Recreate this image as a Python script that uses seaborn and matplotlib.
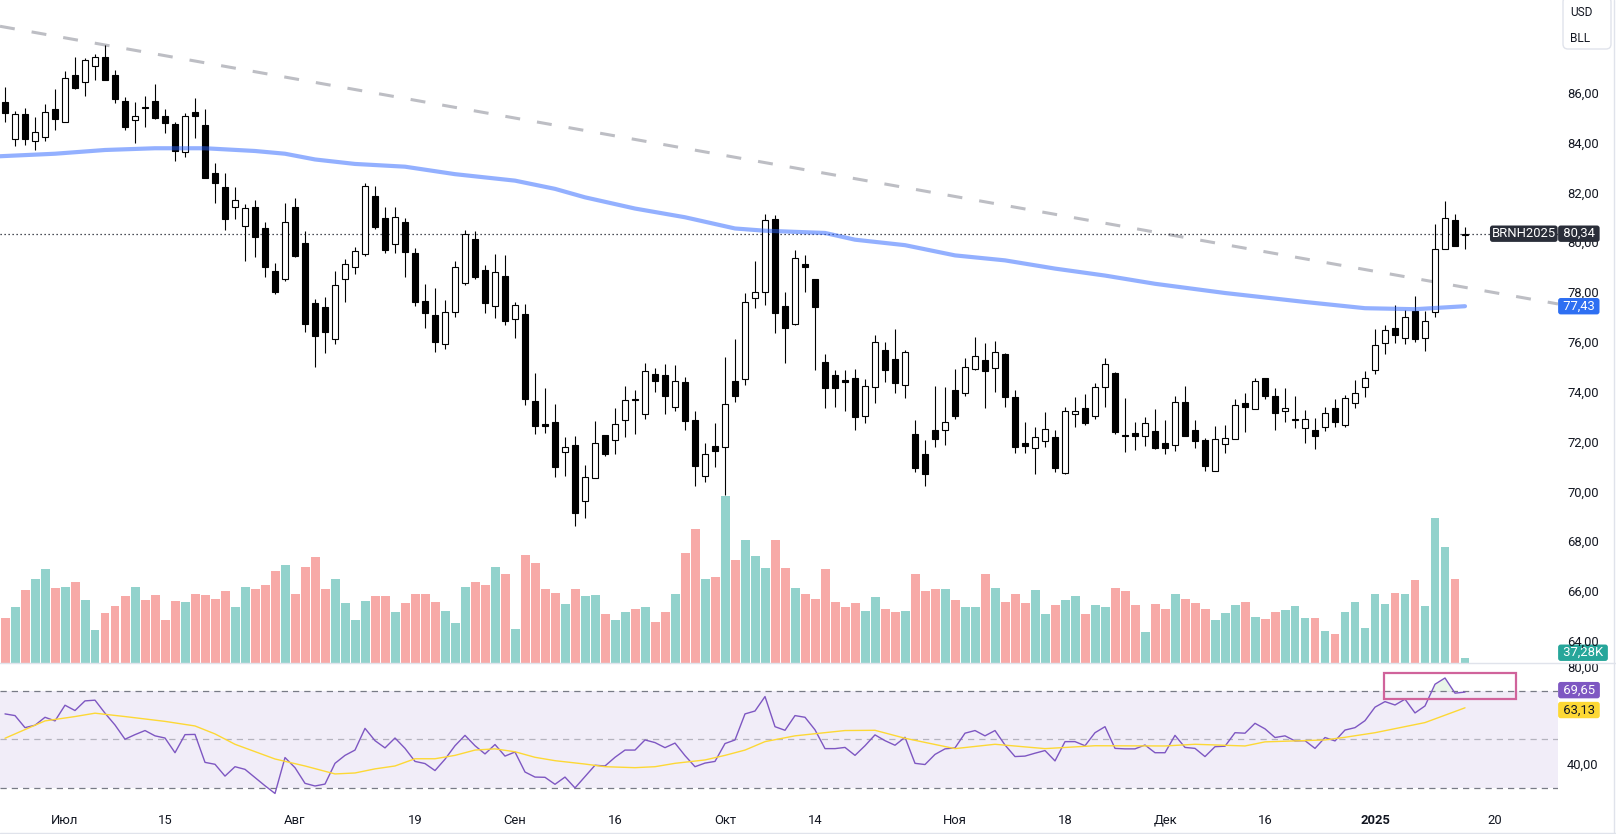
import numpy as np
import pandas as pd
import matplotlib
matplotlib.use("Agg")
import matplotlib.pyplot as plt
import matplotlib.transforms as mtransforms
from matplotlib.patches import FancyBboxPatch, Rectangle
from matplotlib.lines import Line2D
import seaborn as sns

# === Data ===
first_day = "2024-06-21"
holidays = ["2024-12-25", "2025-01-01"]
symbol = "BRNH2025"

opens = [85.61, 84.13, 85.13, 84.05, 84.23, 85.34, 84.83, 86.70, 86.41, 87.06,
         87.42, 86.70, 85.65, 84.89, 85.42, 85.65, 85.05, 84.73, 83.61, 85.21,
         84.69, 82.76, 82.20, 81.40, 80.64, 81.40, 80.56, 78.83, 78.51, 81.40,
         79.97, 77.55, 77.39, 76.10, 78.51, 78.99, 79.51, 81.85, 80.96, 79.93,
         80.80, 79.56, 77.64, 77.08, 75.90, 77.18, 78.35, 80.11, 78.88, 77.44,
         78.64, 76.90, 77.12, 73.62, 72.70, 72.78, 71.59, 71.86, 69.61, 70.52,
         72.26, 72.06, 72.86, 73.69, 73.10, 74.70, 74.66, 73.37, 74.38, 72.85,
         70.63, 71.82, 71.79, 74.43, 74.51, 77.75, 78.01, 80.93, 77.44, 76.72,
         79.11, 78.52, 75.19, 74.67, 74.45, 74.54, 73.04, 74.17, 75.67, 75.31,
         74.26, 72.30, 71.50, 72.46, 72.46, 74.07, 73.93, 74.92, 75.27, 74.94,
         75.51, 73.77, 71.93, 71.73, 72.04, 72.19, 70.72, 73.09, 73.33, 73.04,
         74.20, 74.74, 72.25, 72.33, 72.23, 72.42, 71.93, 71.86, 73.57, 72.46,
         72.06, 70.83, 71.89, 72.09, 73.53, 73.30, 74.54, 73.84, 73.22, 72.85,
         72.53, 72.46, 72.57, 73.33, 72.66, 73.53, 74.17, 74.87, 75.96, 76.54,
         76.14, 77.25, 76.14, 77.21, 79.71, 80.89, 80.27]
highs = [86.21, 85.26, 85.37, 85.01, 85.54, 86.15, 86.87, 87.42, 87.38, 87.55,
         87.91, 86.91, 85.81, 85.61, 85.86, 86.35, 85.34, 84.81, 85.17, 85.77,
         85.34, 83.16, 82.76, 82.20, 81.53, 81.69, 80.80, 79.15, 81.57, 81.76,
         80.43, 77.72, 77.80, 78.84, 79.32, 79.80, 82.37, 82.25, 81.41, 81.41,
         80.96, 79.76, 78.31, 78.15, 77.68, 79.24, 80.49, 80.45, 79.08, 79.52,
         79.48, 77.59, 77.52, 74.76, 74.16, 73.50, 72.19, 72.23, 71.06, 72.82,
         72.26, 73.33, 74.23, 74.07, 75.16, 74.94, 75.10, 75.06, 74.60, 73.22,
         71.93, 72.73, 75.38, 76.11, 77.95, 79.26, 81.13, 81.09, 77.99, 79.68,
         79.48, 78.52, 75.51, 74.87, 74.87, 74.91, 74.50, 76.27, 75.98, 76.51,
         75.67, 72.86, 72.06, 74.24, 74.20, 74.91, 75.34, 76.18, 75.96, 76.03,
         75.54, 74.07, 72.77, 72.57, 73.17, 72.46, 73.40, 73.80, 73.89, 74.34,
         75.34, 74.80, 73.73, 72.79, 73.00, 73.29, 72.86, 73.84, 74.23, 72.86,
         72.13, 72.62, 72.66, 73.71, 73.93, 74.54, 74.54, 74.13, 74.13, 73.83,
         73.27, 72.93, 73.40, 73.71, 73.87, 74.47, 74.83, 76.51, 76.67, 77.48,
         77.28, 77.85, 77.24, 80.73, 81.65, 81.13, 80.62]
lows = [84.83, 83.87, 83.90, 83.70, 84.07, 84.50, 84.83, 86.16, 85.88, 86.51,
        86.49, 85.57, 84.50, 83.99, 84.63, 84.94, 84.39, 83.27, 83.43, 84.19,
        82.56, 81.58, 80.49, 80.92, 79.26, 79.42, 78.61, 77.92, 78.45, 79.42,
        76.41, 75.00, 75.56, 75.92, 77.61, 78.73, 79.46, 80.54, 79.58, 79.58,
        78.61, 77.45, 76.54, 75.60, 75.71, 77.01, 78.28, 78.52, 77.14, 76.97,
        76.67, 76.17, 73.46, 72.30, 72.35, 70.59, 70.63, 68.62, 68.94, 70.52,
        71.42, 71.49, 72.17, 72.29, 72.89, 73.97, 73.09, 73.24, 72.46, 70.23,
        70.39, 70.99, 69.85, 73.57, 74.27, 77.37, 77.48, 76.34, 75.14, 76.69,
        78.01, 74.87, 73.33, 73.40, 73.24, 72.46, 72.76, 73.56, 74.40, 73.96,
        73.76, 70.79, 70.23, 71.79, 71.85, 72.89, 73.84, 74.87, 73.33, 74.00,
        73.40, 71.55, 71.53, 70.68, 71.77, 70.79, 70.70, 72.59, 72.66, 72.89,
        73.40, 72.29, 71.59, 71.66, 71.82, 71.70, 71.49, 71.62, 72.23, 71.75,
        70.83, 70.83, 71.53, 72.09, 72.39, 73.30, 73.71, 72.46, 72.77, 72.53,
        71.95, 71.69, 72.43, 72.57, 72.59, 73.33, 73.80, 74.70, 75.51, 75.94,
        75.90, 76.00, 75.64, 77.01, 79.71, 79.86, 79.72]
closes = [85.19, 85.13, 84.15, 84.43, 85.21, 84.95, 86.57, 86.20, 87.30, 87.42,
          86.49, 85.73, 84.61, 85.05, 85.37, 84.99, 84.79, 83.67, 85.05, 85.07,
          82.59, 82.36, 80.94, 81.68, 81.36, 80.22, 78.99, 78.01, 80.80, 79.46,
          76.73, 76.25, 76.41, 78.27, 79.12, 79.64, 82.25, 80.62, 79.70, 81.00,
          79.62, 77.61, 77.14, 75.98, 77.18, 78.99, 80.31, 78.61, 77.55, 78.79,
          76.85, 77.48, 73.69, 72.63, 72.64, 70.99, 71.77, 69.12, 70.56, 71.93,
          71.50, 72.69, 73.67, 73.65, 74.83, 74.43, 73.84, 74.43, 72.83, 71.03,
          71.49, 71.63, 73.49, 73.84, 77.59, 77.99, 80.89, 77.14, 76.54, 79.35,
          78.99, 77.41, 74.16, 74.16, 74.40, 73.00, 74.23, 75.98, 74.87, 74.34,
          75.58, 70.92, 70.68, 72.09, 72.77, 73.04, 75.00, 75.44, 74.84, 75.58,
          73.80, 71.77, 71.83, 72.19, 72.49, 70.95, 73.24, 73.24, 72.75, 74.17,
          75.10, 72.39, 72.21, 72.23, 72.73, 71.75, 71.75, 73.57, 72.23, 72.03,
          71.03, 72.09, 72.13, 73.45, 73.37, 74.43, 73.84, 73.13, 73.33, 72.88,
          72.89, 72.23, 73.13, 72.79, 73.73, 73.93, 74.56, 75.86, 76.46, 76.26,
          76.98, 76.10, 76.85, 79.71, 80.96, 79.86, 80.34]
volume_k = [328, 410, 537, 619, 686, 552, 559, 596, 462, 239,
            365, 417, 492, 559, 462, 499, 313, 455, 447, 507,
            499, 470, 529, 410, 559, 544, 574, 671, 716, 507,
            701, 775, 544, 619, 440, 313, 455, 492, 492, 373,
            440, 507, 507, 447, 380, 291, 559, 596, 574, 701,
            656, 246, 790, 731, 544, 514, 432, 544, 492, 499,
            358, 313, 373, 395, 410, 298, 373, 507, 805, 984,
            619, 634, 1223, 753, 902, 783, 693, 902, 693, 552,
            507, 470, 686, 447, 410, 440, 380, 485, 395, 373,
            380, 656, 529, 544, 544, 462, 410, 410, 649, 552,
            447, 507, 440, 537, 358, 425, 462, 492, 358, 425,
            410, 552, 529, 425, 224, 432, 395, 507, 470, 440,
            395, 313, 365, 425, 447, 335, 321, 373, 388, 417,
            328, 328, 231, 209, 373, 447, 253, 507, 432, 514,
            507, 611, 417, 1066, 850, 619, 37.28]
rsi = [60.6, 59.9, 54.9, 55.9, 59.2, 57.7, 64.2, 62.0, 66.0, 66.3,
       60.9, 56.0, 50.1, 52.0, 53.7, 51.5, 50.6, 44.5, 52.0, 52.1,
       40.5, 39.7, 34.8, 38.7, 37.6, 34.2, 30.8, 27.6, 42.5, 38.3,
       31.8, 30.7, 31.5, 40.1, 43.4, 45.6, 54.6, 49.5, 46.5, 50.6,
       46.3, 40.9, 40.0, 37.1, 41.8, 47.4, 51.7, 47.4, 44.0, 47.9,
       43.1, 44.8, 36.5, 34.4, 34.3, 31.4, 34.4, 29.9, 34.6, 39.3,
       39.0, 42.6, 45.6, 45.6, 49.8, 48.7, 46.6, 48.5, 43.3, 38.7,
       40.2, 40.9, 48.3, 49.8, 60.6, 61.8, 67.8, 55.3, 53.8, 59.9,
       59.2, 54.0, 46.2, 46.2, 46.7, 43.4, 47.4, 51.9, 49.5, 47.6,
       50.9, 40.1, 39.6, 43.8, 46.1, 46.5, 52.6, 53.7, 51.5, 53.7,
       47.7, 42.9, 43.1, 44.3, 45.4, 41.1, 49.1, 49.1, 47.4, 52.8,
       55.3, 46.3, 46.1, 46.1, 47.7, 44.5, 44.5, 51.7, 46.7, 46.3,
       42.9, 47.0, 47.2, 52.8, 52.6, 56.7, 54.4, 50.8, 51.5, 49.4,
       49.5, 46.3, 50.8, 49.4, 53.9, 54.9, 57.8, 63.4, 65.7, 64.3,
       66.7, 61.0, 63.9, 72.9, 75.5, 69.2, 69.65]

# 200-day moving average, read at a set of bars (bar -1 = the day before the window)
ma_bars = [-1, 5, 10, 15, 20, 25, 28, 31, 35, 40, 45, 51, 55, 58, 63, 68, 73, 76,
           82, 85, 90, 95, 100, 105, 110, 115, 122, 130, 136, 141, 146]
ma_vals = [83.44, 83.55, 83.70, 83.77, 83.77, 83.66, 83.55, 83.32, 83.14, 83.03,
           82.73, 82.47, 82.14, 81.80, 81.35, 81.00, 80.55, 80.46, 80.37, 80.10,
           79.88, 79.47, 79.27, 78.94, 78.66, 78.33, 77.96, 77.60, 77.35, 77.31, 77.43]

# RSI smoothing line (yellow)
rsi_ma_bars = [0, 1, 4, 7, 9, 12, 16, 19, 21, 23, 27, 30, 33, 35, 37, 39, 41, 43, 45,
               47, 49, 51, 53, 55, 58, 60, 63, 65, 67, 70, 72, 74, 76, 79, 84, 87,
               90, 95, 99, 104, 109, 116, 119, 124, 126, 132, 134, 137, 142, 146]
rsi_ma_vals = [50.5, 52.3, 57.7, 59.5, 60.9, 59.5, 57.5, 55.6, 52.3, 48.0, 41.9, 39.0,
               35.7, 36.1, 37.8, 39.0, 42.0, 42.0, 43.4, 45.6, 46.1, 44.9, 42.6, 41.2,
               39.8, 38.7, 38.3, 38.7, 40.1, 41.5, 43.4, 45.6, 49.1, 51.5, 53.7, 53.8,
               50.5, 46.2, 48.0, 46.2, 47.4, 47.3, 48.0, 47.3, 49.0, 49.8, 50.9, 52.8,
               57.0, 63.13]

# drawn trend line (two anchors) and highlight box on the RSI pane
trend_bars = [0, 150]
trend_vals = [88.63, 77.90]
box_bars = [137.9, 151.1]
box_rsi = [66.8, 77.6]

tick_dates = ["2024-07-01", "2024-07-15", "2024-08-01", "2024-08-19", "2024-09-02",
              "2024-09-16", "2024-10-01", "2024-10-14", "2024-11-01", "2024-11-18",
              "2024-12-02", "2024-12-16", "2025-01-02", "2025-01-20"]
tick_labels = ["Июл", "15", "Авг", "19", "Сен", "16", "Окт", "14", "Ноя", "18",
               "Дек", "16", "2025", "20"]
price_ticks = [64, 66, 68, 70, 72, 74, 76, 78, 80, 82, 84, 86]
rsi_ticks = [40, 80]   # 60 sits under the yellow value tag
rsi_levels = [70, 50, 30]

# === Style ===
W, H = 1616, 834
TXT = "#131722"
FS = 9.4
sns.set_style("white")
plt.rcParams["font.family"] = ["Roboto", "DejaVu Sans"]


def fmt(v):
    return f"{v:.2f}".replace(".", ",")


# trading-day calendar -> bar positions
days = pd.bdate_range(first_day, periods=175)
days = days[~days.isin(pd.to_datetime(holidays))]
tick_pos = days.get_indexer(pd.to_datetime(tick_dates))

o, h, l, c = map(np.array, (opens, highs, lows, closes))
idx = np.arange(len(c))
up = c >= o

fig = plt.figure(figsize=(W / 100, H / 100), dpi=100)
ax = fig.add_axes([0, 171 / H, 1558 / W, 663 / H])
ax_rsi = fig.add_axes([0, 28 / H, 1558 / W, 142 / H])
axv = ax.twinx()
ax.set_zorder(2)
axv.set_zorder(1)
ax.patch.set_visible(False)

# === Volume (bottom of the price pane) ===
vol_df = pd.DataFrame({"bar": idx, "vol": volume_k, "dir": np.where(up, "up", "down")})
sns.barplot(data=vol_df, x="bar", y="vol", hue="dir", native_scale=True,
            palette={"up": "#92D2CC", "down": "#F7A9A7"}, saturation=1,
            width=0.9, dodge=False, errorbar=None, legend=False, linewidth=0, ax=axv)
axv.set_ylim(0, 4860)
axv.set_yticks([])
axv.set_xlabel("")
axv.set_ylabel("")

# === Candles ===
ax.axline((trend_bars[0], trend_vals[0]), (trend_bars[1], trend_vals[1]),
          color="#BDBEC4", lw=2.2, linestyle=(0, (4.9, 5.6)), zorder=1)
ax.axhline(c[-1], color=TXT, lw=0.9, linestyle=(0, (1, 2.2)), zorder=1.5)
ax.vlines(idx, l, h, color="black", lw=0.8, zorder=2)
body_lo = np.minimum(o, c)
body_h = np.maximum(np.abs(c - o), 0.04)
ax.bar(idx, body_h, bottom=body_lo, width=0.62, color=np.where(up, "white", "black"),
       edgecolor="black", linewidth=0.8, zorder=3)
sns.lineplot(x=ma_bars, y=ma_vals, ax=ax, color="#2962FF", alpha=0.5, lw=3,
             solid_capstyle="round", zorder=4)

ax.set_ylim(63.11, 89.72)
ax.yaxis.tick_right()
ax.set_yticks(price_ticks, [fmt(v) for v in price_ticks])
ax.tick_params(axis="y", length=0, pad=6.5, labelsize=FS, labelcolor=TXT)
ax.tick_params(axis="x", bottom=False, labelbottom=False)
ax.set_xlabel("")
ax.set_ylabel("")

# === RSI pane ===
ax_rsi.axhspan(rsi_levels[2], rsi_levels[0], color="#7E57C2", alpha=0.1, lw=0)
for lvl in rsi_levels:
    ax_rsi.axhline(lvl, color="#787B86", lw=0.9, linestyle=(0, (5, 4)),
                   alpha=0.5 if lvl == 50 else 1.0)
rsi_arr = np.array(rsi)
ax_rsi.fill_between(idx, 70, rsi_arr, where=rsi_arr >= 70, interpolate=True,
                    color="#4CAF50", alpha=0.12, lw=0)
sns.lineplot(x=idx, y=rsi, ax=ax_rsi, color="#7E57C2", lw=1)
sns.lineplot(x=rsi_ma_bars, y=rsi_ma_vals, ax=ax_rsi, color="#FDD835", lw=1)
ax_rsi.add_patch(Rectangle((box_bars[0], box_rsi[0]), box_bars[1] - box_bars[0],
                           box_rsi[1] - box_rsi[0], fill=False, ec="#D0639B", lw=1.6,
                           zorder=5))
ax_rsi.set_ylim(22.4, 81.3)
ax_rsi.yaxis.tick_right()
ax_rsi.set_yticks(rsi_ticks, [fmt(v) for v in rsi_ticks])
ax_rsi.tick_params(axis="y", length=0, pad=6.5, labelsize=FS, labelcolor=TXT)
ax_rsi.set_xticks(tick_pos, tick_labels)
ax_rsi.tick_params(axis="x", length=0, pad=5.5, labelsize=FS, labelcolor=TXT)
for t, lab in zip(ax_rsi.get_xticklabels(), tick_labels):
    if lab == "2025":
        t.set_fontweight("bold")
ax_rsi.set_xlabel("")
ax_rsi.set_ylabel("")

# RSI tick labels are cut at the pane separator
clip = mtransforms.TransformedBbox(mtransforms.Bbox.from_extents(0, 0, 1, 170.6 / H),
                                   fig.transFigure)
for tk in ax_rsi.yaxis.get_major_ticks():
    tk.label2.set_clip_box(clip)
    tk.label2.set_clip_on(True)

for a in (ax, axv, ax_rsi):
    a.set_xlim(-0.5, 155.3)
    for s in a.spines.values():
        s.set_visible(False)


# === Value tags on the right ===
def tag(axis, y, text, bg, fg="white", inside=False, trans=None, dy=0):
    if trans is None:
        trans = mtransforms.blended_transform_factory(axis.transAxes, axis.transData)
    label = text if inside else f" {text} "
    axis.annotate(label, xy=(1, y), xycoords=trans,
                  xytext=(-1.5, dy) if inside else (1.3, dy), textcoords="offset points",
                  ha="right" if inside else "left", va="center", fontsize=FS, color=fg,
                  bbox=dict(boxstyle="round,pad=0.13,rounding_size=0.2", fc=bg, ec="none"),
                  annotation_clip=False, zorder=10)


tag(ax, c[-1], symbol, "#2A2E39", inside=True)
tag(ax, c[-1], fmt(c[-1]), "#2A2E39")
tag(ax, ma_vals[-1], fmt(ma_vals[-1]), "#2E6FF2")
tag(axv, 0.0155, fmt(volume_k[-1]) + "K", "#26A69A", trans=axv.transAxes)
tag(ax_rsi, rsi[-1], fmt(rsi[-1]), "#7E57C2", dy=1.4)
tag(ax_rsi, rsi_ma_vals[-1], fmt(rsi_ma_vals[-1]), "#FDD835", fg=TXT, dy=-1.6)

# === Frame pieces: pane separator, borders, currency/unit box ===
sep = "#E0E3EB"
fig.add_artist(Line2D([0, 1], [170.6 / H] * 2, transform=fig.transFigure, color=sep, lw=1))
fig.add_artist(Line2D([0, 1], [1.5 / H] * 2, transform=fig.transFigure, color=sep, lw=1))
fig.add_artist(Line2D([1613.5 / W] * 2, [0, 1], transform=fig.transFigure, color=sep, lw=1))
fig.add_artist(FancyBboxPatch((1563, H - 49), 48, 52, boxstyle="round,pad=0,rounding_size=5",
                              transform=mtransforms.IdentityTransform(),
                              fc="white", ec=sep, lw=1))
fig.text(1581 / W, 1 - 12.7 / H, "USD", ha="center", va="center", fontsize=8.6, color=TXT)
fig.text(1580 / W, 1 - 38 / H, "BLL", ha="center", va="center", fontsize=8.6, color=TXT)

fig.savefig("out.png", dpi=100)
